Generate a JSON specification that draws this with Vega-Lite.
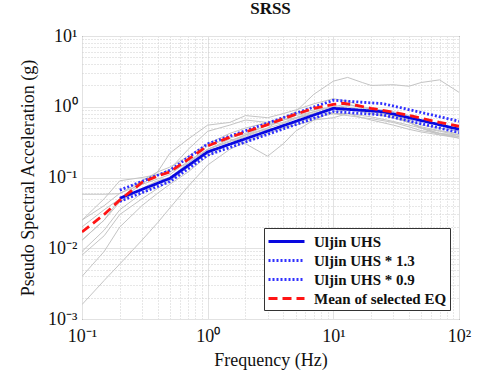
{
  "$schema": "https://vega.github.io/schema/vega-lite/v6.json",
  "width": 377,
  "height": 283,
  "autosize": {"type": "none"},
  "padding": {"left": 82, "top": 36, "right": 34, "bottom": 64},
  "background": "white",
  "title": {"text": "SRSS", "font": "Liberation Serif, Times New Roman, serif", "fontSize": 17, "fontWeight": "bold", "color": "#111111", "offset": 9},
  "config": {
    "font": "Liberation Serif, Times New Roman, serif",
    "view": {"stroke": "#222222", "strokeWidth": 1},
    "axis": {
      "labelFont": "Liberation Serif, Times New Roman, serif",
      "labelFontSize": 18,
      "labelColor": "#111111",
      "titleFont": "Liberation Serif, Times New Roman, serif",
      "titleFontSize": 18,
      "titleFontWeight": "normal",
      "titleColor": "#111111",
      "ticks": false,
      "domain": false,
      "grid": true,
      "labelOverlap": false,
      "labelFlush": false,
      "gridColor": {"condition": {"test": "abs(log(datum.value)/LN10 - round(log(datum.value)/LN10)) < 0.01", "value": "#e2e2e2"}, "value": "#cfcfcf"},
      "gridDash": {"condition": {"test": "abs(log(datum.value)/LN10 - round(log(datum.value)/LN10)) < 0.01", "value": []}, "value": [1, 2]},
      "gridWidth": 1,
      "labelExpr": "abs(log(datum.value)/LN10 - round(log(datum.value)/LN10)) > 0.01 ? '' : ['10⁻³','10⁻²','10⁻¹','10⁰','10¹','10²'][round(log(datum.value)/LN10)+3]"
    }
  },
  "datasets": {
    "eq": [
      {"eq":"E1","f":0.1,"a":0.025},{"eq":"E1","f":0.15,"a":0.04},{"eq":"E1","f":0.2,"a":0.06},{"eq":"E1","f":0.3,"a":0.08},{"eq":"E1","f":0.4,"a":0.095},{"eq":"E1","f":0.5,"a":0.11},{"eq":"E1","f":0.7,"a":0.17},{"eq":"E1","f":1,"a":0.25},{"eq":"E1","f":1.5,"a":0.33},{"eq":"E1","f":2,"a":0.4},{"eq":"E1","f":3,"a":0.5},{"eq":"E1","f":4,"a":0.7},{"eq":"E1","f":5,"a":0.85},{"eq":"E1","f":7,"a":1.5},{"eq":"E1","f":10,"a":2.3},{"eq":"E1","f":13,"a":2.6},{"eq":"E1","f":17,"a":2.2},{"eq":"E1","f":20,"a":2.0},{"eq":"E1","f":30,"a":2.05},{"eq":"E1","f":40,"a":1.95},{"eq":"E1","f":50,"a":2.2},{"eq":"E1","f":70,"a":2.4},{"eq":"E1","f":100,"a":1.6},
      {"eq":"E2","f":0.1,"a":0.0016},{"eq":"E2","f":0.15,"a":0.0035},{"eq":"E2","f":0.2,"a":0.006},{"eq":"E2","f":0.3,"a":0.013},{"eq":"E2","f":0.4,"a":0.023},{"eq":"E2","f":0.5,"a":0.037},{"eq":"E2","f":0.7,"a":0.075},{"eq":"E2","f":1,"a":0.15},{"eq":"E2","f":1.5,"a":0.25},{"eq":"E2","f":2,"a":0.32},{"eq":"E2","f":3,"a":0.42},{"eq":"E2","f":4,"a":0.5},{"eq":"E2","f":5,"a":0.6},{"eq":"E2","f":7,"a":0.7},{"eq":"E2","f":10,"a":0.8},{"eq":"E2","f":13,"a":0.8},{"eq":"E2","f":17,"a":0.7},{"eq":"E2","f":20,"a":0.65},{"eq":"E2","f":30,"a":0.55},{"eq":"E2","f":40,"a":0.48},{"eq":"E2","f":50,"a":0.44},{"eq":"E2","f":70,"a":0.4},{"eq":"E2","f":100,"a":0.38},
      {"eq":"E3","f":0.1,"a":0.058},{"eq":"E3","f":0.15,"a":0.058},{"eq":"E3","f":0.2,"a":0.059},{"eq":"E3","f":0.3,"a":0.09},{"eq":"E3","f":0.4,"a":0.12},{"eq":"E3","f":0.5,"a":0.14},{"eq":"E3","f":0.7,"a":0.2},{"eq":"E3","f":1,"a":0.3},{"eq":"E3","f":1.5,"a":0.42},{"eq":"E3","f":2,"a":0.5},{"eq":"E3","f":3,"a":0.6},{"eq":"E3","f":4,"a":0.65},{"eq":"E3","f":5,"a":0.7},{"eq":"E3","f":7,"a":0.8},{"eq":"E3","f":10,"a":0.95},{"eq":"E3","f":13,"a":1.0},{"eq":"E3","f":17,"a":0.9},{"eq":"E3","f":20,"a":0.85},{"eq":"E3","f":30,"a":0.75},{"eq":"E3","f":40,"a":0.65},{"eq":"E3","f":50,"a":0.55},{"eq":"E3","f":70,"a":0.5},{"eq":"E3","f":100,"a":0.45},
      {"eq":"E4","f":0.1,"a":0.025},{"eq":"E4","f":0.15,"a":0.05},{"eq":"E4","f":0.2,"a":0.09},{"eq":"E4","f":0.3,"a":0.1},{"eq":"E4","f":0.4,"a":0.11},{"eq":"E4","f":0.5,"a":0.13},{"eq":"E4","f":0.7,"a":0.25},{"eq":"E4","f":1,"a":0.45},{"eq":"E4","f":1.5,"a":0.55},{"eq":"E4","f":2,"a":0.65},{"eq":"E4","f":3,"a":0.6},{"eq":"E4","f":4,"a":0.7},{"eq":"E4","f":5,"a":0.8},{"eq":"E4","f":7,"a":0.9},{"eq":"E4","f":10,"a":1.0},{"eq":"E4","f":13,"a":0.95},{"eq":"E4","f":17,"a":0.85},{"eq":"E4","f":20,"a":0.8},{"eq":"E4","f":30,"a":0.7},{"eq":"E4","f":40,"a":0.6},{"eq":"E4","f":50,"a":0.5},{"eq":"E4","f":70,"a":0.42},{"eq":"E4","f":100,"a":0.38},
      {"eq":"E5","f":0.1,"a":0.02},{"eq":"E5","f":0.15,"a":0.035},{"eq":"E5","f":0.2,"a":0.05},{"eq":"E5","f":0.3,"a":0.08},{"eq":"E5","f":0.4,"a":0.12},{"eq":"E5","f":0.5,"a":0.22},{"eq":"E5","f":0.7,"a":0.35},{"eq":"E5","f":1,"a":0.55},{"eq":"E5","f":1.5,"a":0.6},{"eq":"E5","f":2,"a":0.75},{"eq":"E5","f":3,"a":0.7},{"eq":"E5","f":4,"a":0.8},{"eq":"E5","f":5,"a":0.9},{"eq":"E5","f":7,"a":1.1},{"eq":"E5","f":10,"a":1.3},{"eq":"E5","f":13,"a":1.2},{"eq":"E5","f":17,"a":1.0},{"eq":"E5","f":20,"a":0.9},{"eq":"E5","f":30,"a":0.75},{"eq":"E5","f":40,"a":0.6},{"eq":"E5","f":50,"a":0.5},{"eq":"E5","f":70,"a":0.42},{"eq":"E5","f":100,"a":0.36},
      {"eq":"E6","f":0.1,"a":0.013},{"eq":"E6","f":0.15,"a":0.025},{"eq":"E6","f":0.2,"a":0.045},{"eq":"E6","f":0.3,"a":0.07},{"eq":"E6","f":0.4,"a":0.09},{"eq":"E6","f":0.5,"a":0.1},{"eq":"E6","f":0.7,"a":0.15},{"eq":"E6","f":1,"a":0.25},{"eq":"E6","f":1.5,"a":0.35},{"eq":"E6","f":2,"a":0.3},{"eq":"E6","f":3,"a":0.2},{"eq":"E6","f":4,"a":0.3},{"eq":"E6","f":5,"a":0.45},{"eq":"E6","f":7,"a":0.65},{"eq":"E6","f":10,"a":0.85},{"eq":"E6","f":13,"a":0.9},{"eq":"E6","f":17,"a":0.85},{"eq":"E6","f":20,"a":0.8},{"eq":"E6","f":30,"a":0.7},{"eq":"E6","f":40,"a":0.6},{"eq":"E6","f":50,"a":0.52},{"eq":"E6","f":70,"a":0.46},{"eq":"E6","f":100,"a":0.42},
      {"eq":"E7","f":0.1,"a":0.009},{"eq":"E7","f":0.15,"a":0.018},{"eq":"E7","f":0.2,"a":0.035},{"eq":"E7","f":0.3,"a":0.06},{"eq":"E7","f":0.4,"a":0.08},{"eq":"E7","f":0.5,"a":0.1},{"eq":"E7","f":0.7,"a":0.16},{"eq":"E7","f":1,"a":0.28},{"eq":"E7","f":1.5,"a":0.36},{"eq":"E7","f":2,"a":0.42},{"eq":"E7","f":3,"a":0.55},{"eq":"E7","f":4,"a":0.6},{"eq":"E7","f":5,"a":0.7},{"eq":"E7","f":7,"a":0.85},{"eq":"E7","f":10,"a":1.0},{"eq":"E7","f":13,"a":1.1},{"eq":"E7","f":17,"a":0.95},{"eq":"E7","f":20,"a":0.9},{"eq":"E7","f":30,"a":0.75},{"eq":"E7","f":40,"a":0.62},{"eq":"E7","f":50,"a":0.5},{"eq":"E7","f":70,"a":0.4},{"eq":"E7","f":100,"a":0.36},
      {"eq":"E8","f":0.1,"a":0.008},{"eq":"E8","f":0.15,"a":0.015},{"eq":"E8","f":0.2,"a":0.03},{"eq":"E8","f":0.3,"a":0.05},{"eq":"E8","f":0.4,"a":0.07},{"eq":"E8","f":0.5,"a":0.09},{"eq":"E8","f":0.7,"a":0.14},{"eq":"E8","f":1,"a":0.22},{"eq":"E8","f":1.5,"a":0.3},{"eq":"E8","f":2,"a":0.38},{"eq":"E8","f":3,"a":0.5},{"eq":"E8","f":4,"a":0.58},{"eq":"E8","f":5,"a":0.68},{"eq":"E8","f":7,"a":0.8},{"eq":"E8","f":10,"a":0.95},{"eq":"E8","f":13,"a":1.05},{"eq":"E8","f":17,"a":1.0},{"eq":"E8","f":20,"a":0.95},{"eq":"E8","f":30,"a":0.85},{"eq":"E8","f":40,"a":0.75},{"eq":"E8","f":50,"a":0.65},{"eq":"E8","f":70,"a":0.55},{"eq":"E8","f":100,"a":0.5},
      {"eq":"E9","f":0.1,"a":0.004},{"eq":"E9","f":0.15,"a":0.009},{"eq":"E9","f":0.2,"a":0.02},{"eq":"E9","f":0.3,"a":0.04},{"eq":"E9","f":0.4,"a":0.06},{"eq":"E9","f":0.5,"a":0.08},{"eq":"E9","f":0.7,"a":0.12},{"eq":"E9","f":1,"a":0.2},{"eq":"E9","f":1.5,"a":0.3},{"eq":"E9","f":2,"a":0.4},{"eq":"E9","f":3,"a":0.55},{"eq":"E9","f":4,"a":0.65},{"eq":"E9","f":5,"a":0.75},{"eq":"E9","f":7,"a":0.85},{"eq":"E9","f":10,"a":0.8},{"eq":"E9","f":13,"a":0.75},{"eq":"E9","f":17,"a":0.7},{"eq":"E9","f":20,"a":0.68},{"eq":"E9","f":30,"a":0.6},{"eq":"E9","f":40,"a":0.52},{"eq":"E9","f":50,"a":0.46},{"eq":"E9","f":70,"a":0.42},{"eq":"E9","f":100,"a":0.4},
      {"eq":"E10","f":0.1,"a":0.013},{"eq":"E10","f":0.15,"a":0.025},{"eq":"E10","f":0.2,"a":0.05},{"eq":"E10","f":0.3,"a":0.09},{"eq":"E10","f":0.4,"a":0.11},{"eq":"E10","f":0.5,"a":0.12},{"eq":"E10","f":0.7,"a":0.16},{"eq":"E10","f":1,"a":0.25},{"eq":"E10","f":1.5,"a":0.32},{"eq":"E10","f":2,"a":0.4},{"eq":"E10","f":3,"a":0.48},{"eq":"E10","f":4,"a":0.5},{"eq":"E10","f":5,"a":0.55},{"eq":"E10","f":7,"a":0.65},{"eq":"E10","f":10,"a":0.7},{"eq":"E10","f":13,"a":0.8},{"eq":"E10","f":17,"a":0.75},{"eq":"E10","f":20,"a":0.72},{"eq":"E10","f":30,"a":0.62},{"eq":"E10","f":40,"a":0.55},{"eq":"E10","f":50,"a":0.5},{"eq":"E10","f":70,"a":0.45},{"eq":"E10","f":100,"a":0.4}
    ],
    "ref": [
      {"s":"Uljin UHS","f":0.2,"a":0.051},{"s":"Uljin UHS","f":0.5,"a":0.097},{"s":"Uljin UHS","f":1,"a":0.23},{"s":"Uljin UHS","f":10,"a":0.95},{"s":"Uljin UHS","f":25,"a":0.85},{"s":"Uljin UHS","f":100,"a":0.48},
      {"s":"Uljin UHS * 1.3","f":0.2,"a":0.0663},{"s":"Uljin UHS * 1.3","f":0.5,"a":0.1261},{"s":"Uljin UHS * 1.3","f":1,"a":0.299},{"s":"Uljin UHS * 1.3","f":10,"a":1.235},{"s":"Uljin UHS * 1.3","f":25,"a":1.105},{"s":"Uljin UHS * 1.3","f":100,"a":0.624},
      {"s":"Uljin UHS * 0.9","f":0.2,"a":0.0459},{"s":"Uljin UHS * 0.9","f":0.5,"a":0.0873},{"s":"Uljin UHS * 0.9","f":1,"a":0.207},{"s":"Uljin UHS * 0.9","f":10,"a":0.855},{"s":"Uljin UHS * 0.9","f":25,"a":0.765},{"s":"Uljin UHS * 0.9","f":100,"a":0.432},
      {"s":"Mean of selected EQ","f":0.1,"a":0.017},{"s":"Mean of selected EQ","f":0.15,"a":0.03},{"s":"Mean of selected EQ","f":0.2,"a":0.048},{"s":"Mean of selected EQ","f":0.3,"a":0.085},{"s":"Mean of selected EQ","f":0.4,"a":0.105},{"s":"Mean of selected EQ","f":0.5,"a":0.12},{"s":"Mean of selected EQ","f":0.7,"a":0.18},{"s":"Mean of selected EQ","f":1,"a":0.28},{"s":"Mean of selected EQ","f":1.5,"a":0.37},{"s":"Mean of selected EQ","f":2,"a":0.44},{"s":"Mean of selected EQ","f":3,"a":0.56},{"s":"Mean of selected EQ","f":5,"a":0.78},{"s":"Mean of selected EQ","f":7,"a":0.95},{"s":"Mean of selected EQ","f":10,"a":1.08},{"s":"Mean of selected EQ","f":12,"a":1.12},{"s":"Mean of selected EQ","f":15,"a":1.05},{"s":"Mean of selected EQ","f":20,"a":0.95},{"s":"Mean of selected EQ","f":30,"a":0.84},{"s":"Mean of selected EQ","f":50,"a":0.69},{"s":"Mean of selected EQ","f":70,"a":0.6},{"s":"Mean of selected EQ","f":100,"a":0.53}
    ]
  },
  "encoding": {
    "x": {
      "field": "f", "type": "quantitative",
      "scale": {"type": "log", "domain": [0.1, 100], "nice": false},
      "axis": {"title": "Frequency (Hz)", "labelPadding": 8, "titlePadding": 6,
        "values": [0.1,0.2,0.3,0.4,0.5,0.6,0.7,0.8,0.9,1,2,3,4,5,6,7,8,9,10,20,30,40,50,60,70,80,90,100]}
    },
    "y": {
      "field": "a", "type": "quantitative",
      "scale": {"type": "log", "domain": [0.001, 10], "nice": false},
      "axis": {"title": "Pseudo Spectral Acceleration (g)", "labelPadding": 5, "titlePadding": 10,
        "values": [0.001,0.002,0.003,0.004,0.005,0.006,0.007,0.008,0.009,0.01,0.02,0.03,0.04,0.05,0.06,0.07,0.08,0.09,0.1,0.2,0.3,0.4,0.5,0.6,0.7,0.8,0.9,1,2,3,4,5,6,7,8,9,10]}
    }
  },
  "layer": [
    {
      "data": {"name": "eq"},
      "mark": {"type": "line", "color": "#c4c4c4", "strokeWidth": 1, "clip": true},
      "encoding": {"detail": {"field": "eq"}}
    },
    {
      "data": {"name": "ref"},
      "mark": {"type": "line", "strokeWidth": 2.8, "clip": true},
      "encoding": {
        "color": {
          "field": "s", "type": "nominal",
          "scale": {"domain": ["Uljin UHS","Uljin UHS * 1.3","Uljin UHS * 0.9","Mean of selected EQ"], "range": ["#0808e0","#3030ff","#3030ff","#ff1414"]},
          "legend": {"orient": "bottom-right", "offset": 9, "title": null, "strokeColor": "#333333", "fillColor": "white", "padding": 3,
            "labelFont": "Liberation Serif, Times New Roman, serif", "labelFontWeight": "bold", "labelFontSize": 15, "labelColor": "#111111",
            "symbolType": "M-2,0H2", "symbolSize": 324, "symbolStrokeWidth": 3, "symbolOffset": 9, "rowPadding": 0, "labelOffset": 17}
        },
        "strokeDash": {
          "field": "s", "type": "nominal",
          "scale": {"domain": ["Uljin UHS","Uljin UHS * 1.3","Uljin UHS * 0.9","Mean of selected EQ"], "range": [[1,0],[2,2],[2,2],[9,5]]}
        }
      }
    }
  ]
}
